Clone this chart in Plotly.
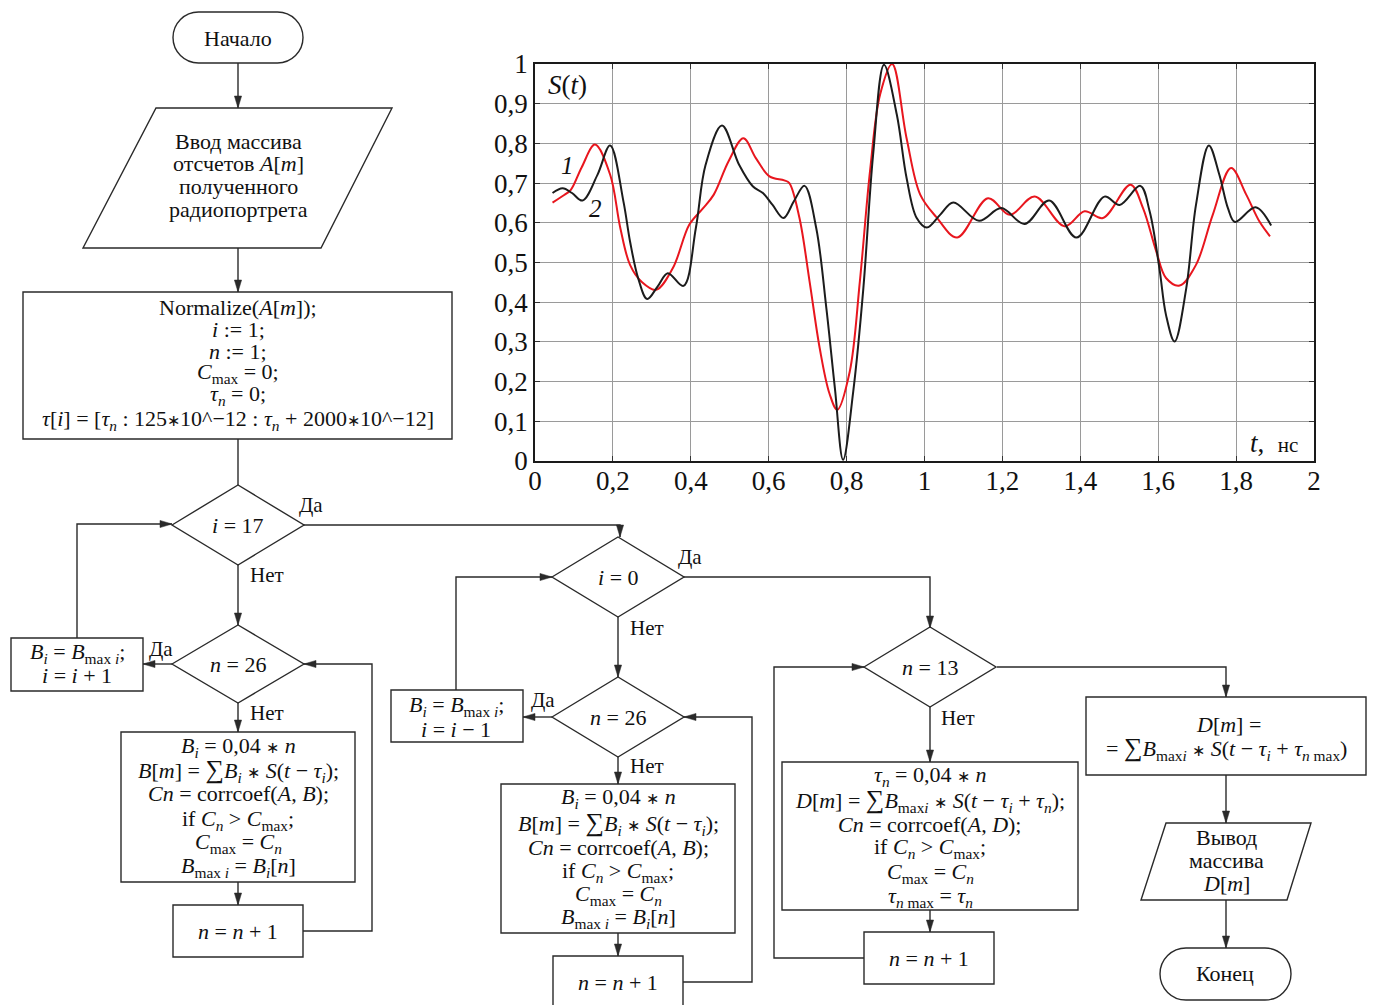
import plotly.graph_objects as go

W_PX, H_PX = 1375, 1005

# ---------------- chart data ----------------
# curve 1 (black)
t1 = [0.045, 0.071, 0.095, 0.122, 0.16, 0.193, 0.227, 0.244, 0.265, 0.288, 0.315, 0.341, 0.381,
      0.413, 0.438, 0.48, 0.524, 0.559, 0.585, 0.61, 0.638, 0.665, 0.692, 0.722, 0.748, 0.77,
      0.791, 0.817, 0.843, 0.868, 0.896, 0.929, 0.954, 0.98, 1.006, 1.04, 1.074, 1.14, 1.197,
      1.257, 1.32, 1.39, 1.462, 1.501, 1.554, 1.578, 1.603, 1.62, 1.642, 1.672, 1.697, 1.73,
      1.757, 1.779, 1.797, 1.85, 1.89]
s1 = [0.675, 0.687, 0.675, 0.656, 0.72, 0.795, 0.654, 0.553, 0.46, 0.408, 0.44, 0.473, 0.441,
      0.587, 0.746, 0.845, 0.746, 0.692, 0.675, 0.645, 0.612, 0.655, 0.693, 0.587, 0.385, 0.183,
      0.003, 0.175, 0.435, 0.771, 0.998, 0.872, 0.713, 0.612, 0.588, 0.62, 0.651, 0.605, 0.637,
      0.597, 0.656, 0.563, 0.666, 0.645, 0.693, 0.629, 0.486, 0.368, 0.301, 0.435, 0.645, 0.795,
      0.721, 0.637, 0.602, 0.639, 0.593]
# curve 2 (red)
t2 = [0.045, 0.075, 0.092, 0.12, 0.154, 0.193, 0.219, 0.244, 0.275, 0.311, 0.354, 0.396, 0.43,
      0.459, 0.497, 0.535, 0.567, 0.602, 0.64, 0.653, 0.679, 0.705, 0.731, 0.756, 0.776, 0.808,
      0.834, 0.86, 0.886, 0.917, 0.954, 0.989, 1.03, 1.084, 1.163, 1.219, 1.283, 1.36, 1.411,
      1.458, 1.529, 1.561, 1.595, 1.62, 1.655, 1.697, 1.74, 1.787, 1.826, 1.86, 1.887]
s2 = [0.651, 0.67, 0.683, 0.74, 0.797, 0.721, 0.587, 0.494, 0.45, 0.431, 0.486, 0.595, 0.635,
      0.671, 0.755, 0.813, 0.763, 0.717, 0.707, 0.70, 0.612, 0.452, 0.284, 0.17, 0.129, 0.225,
      0.452, 0.729, 0.923, 1.0, 0.813, 0.671, 0.615, 0.563, 0.662, 0.620, 0.666, 0.591, 0.629,
      0.612, 0.696, 0.637, 0.528, 0.461, 0.442, 0.494, 0.62, 0.738, 0.671, 0.603, 0.566]

x_ticks = [0, 0.2, 0.4, 0.6, 0.8, 1, 1.2, 1.4, 1.6, 1.8, 2]
x_tick_labels = ["0", "0,2", "0,4", "0,6", "0,8", "1", "1,2", "1,4", "1,6", "1,8", "2"]
y_ticks = [0, 0.1, 0.2, 0.3, 0.4, 0.5, 0.6, 0.7, 0.8, 0.9, 1]
y_tick_labels = ["0", "0,1", "0,2", "0,3", "0,4", "0,5", "0,6", "0,7", "0,8", "0,9", "1"]

SERIF = "Liberation Serif"
LC = "#2a2a2a"
FS = 22
AST = "<span style='font-size:16px'>∗</span>"
AST_S = " " + AST + " "
SUM = "<span style='font-size:26px'>∑</span>"

fig = go.Figure()
fig.add_trace(go.Scatter(x=t2, y=s2, mode="lines", hoverinfo="skip", showlegend=False,
                         line=dict(color="#e8161e", width=2, shape="spline", smoothing=1)))
fig.add_trace(go.Scatter(x=t1, y=s1, mode="lines", hoverinfo="skip", showlegend=False,
                         line=dict(color="#1c1c1c", width=2, shape="spline", smoothing=1)))
fig.add_trace(go.Scatter(x=[None], y=[None], xaxis="x2", yaxis="y2", showlegend=False,
                         hoverinfo="skip"))

shapes = []
annos = []


def path_shape(d, fill=None, width=1.4):
    s = dict(type="path", path=d, xref="x2", yref="y2", layer="above",
             line=dict(color=LC, width=width))
    if fill:
        s["fillcolor"] = fill
    shapes.append(s)


def poly(pts, closed=False):
    d = "M %g,%g " % pts[0] + " ".join("L %g,%g" % p for p in pts[1:])
    if closed:
        d += " Z"
    path_shape(d)


def arrowhead(x, y, direc, L=12, W=3.6):
    if direc == "d":
        pts = [(x, y), (x - W, y - L), (x + W, y - L)]
    elif direc == "u":
        pts = [(x, y), (x - W, y + L), (x + W, y + L)]
    elif direc == "l":
        pts = [(x, y), (x + L, y - W), (x + L, y + W)]
    else:
        pts = [(x, y), (x - L, y - W), (x - L, y + W)]
    d = "M %g,%g " % pts[0] + " ".join("L %g,%g" % p for p in pts[1:]) + " Z"
    path_shape(d, fill=LC, width=0.5)


def conn(pts, arrow=True):
    poly(pts)
    if arrow:
        (x0, y0), (x1, y1) = pts[-2], pts[-1]
        if x0 == x1:
            direc = "d" if y1 > y0 else "u"
        else:
            direc = "r" if x1 > x0 else "l"
        arrowhead(x1, y1, direc)


def rect(x0, y0, x1, y1):
    poly([(x0, y0), (x1, y0), (x1, y1), (x0, y1)], closed=True)


def diamond(cx, cy, hw, hh):
    poly([(cx - hw, cy), (cx, cy - hh), (cx + hw, cy), (cx, cy + hh)], closed=True)


def terminator(x0, y0, x1, y1):
    r = (y1 - y0) / 2.0
    k = 0.5523 * r
    cy = (y0 + y1) / 2.0
    a, b = x0 + r, x1 - r
    d = ("M %g,%g L %g,%g " % (a, y0, b, y0) +
         "C %g,%g %g,%g %g,%g " % (b + k, y0, x1, cy - k, x1, cy) +
         "C %g,%g %g,%g %g,%g " % (x1, cy + k, b + k, y1, b, y1) +
         "L %g,%g " % (a, y1) +
         "C %g,%g %g,%g %g,%g " % (a - k, y1, x0, cy + k, x0, cy) +
         "C %g,%g %g,%g %g,%g Z" % (x0, cy - k, a - k, y0, a, y0))
    path_shape(d)


def text(x, y, s, size=FS):
    annos.append(dict(x=x, y=y, xref="x2", yref="y2", text=s, showarrow=False,
                      xanchor="center", yanchor="middle",
                      font=dict(family=SERIF, size=size, color="#111")))


# ---------------- flowchart: left column ----------------
terminator(173, 12, 303, 63)
text(238, 38, "Начало")
conn([(238, 63), (238, 108)])
poly([(156, 108), (392, 108), (321, 248), (83, 248)], closed=True)
for y, s in zip([141, 163, 186, 209],
                ["Ввод массива", "отсчетов <i>A</i>[<i>m</i>]", "полученного", "радиопортрета"]):
    text(238, y, s)
conn([(238, 248), (238, 292)])
rect(23, 292, 452, 439)
init_lines = [
    "Normalize(<i>A</i>[<i>m</i>]);",
    "<i>i</i> := 1;",
    "<i>n</i> := 1;",
    "<i>C</i><sub>max</sub> = 0;",
    "<i>τ<sub>n</sub></i> = 0;",
    "<i>τ</i>[<i>i</i>] = [<i>τ<sub>n</sub></i> : 125" + AST + "10^−12 : <i>τ<sub>n</sub></i> + 2000" + AST + "10^−12]",
]
for y, s in zip([307, 329, 351, 373, 395, 420], init_lines):
    text(238, y, s)
conn([(238, 439), (238, 485)], arrow=False)

diamond(238, 525, 66, 40)
text(238, 525, "<i>i</i> = 17")
text(311, 505, "Да", 21)
conn([(304, 525), (620, 525), (620, 537)])
conn([(238, 565), (238, 625)])
text(267, 575, "Нет", 21)

diamond(238, 664, 66, 39)
text(238, 664, "<i>n</i> = 26")
text(161, 649, "Да", 21)
conn([(172, 664), (143, 664)])
rect(11, 638, 143, 691)
text(77, 653, "<i>B<sub>i</sub></i> = <i>B</i><sub>max <i>i</i></sub>;")
text(77, 675, "<i>i</i> = <i>i</i> + 1")
conn([(77, 638), (77, 524), (172, 524)])
text(267, 713, "Нет", 21)
conn([(238, 703), (238, 732)])

bbox_lines = [
    "<i>B<sub>i</sub></i> = 0,04" + AST_S + "<i>n</i>",
    "<i>B</i>[<i>m</i>] = " + SUM + "<i>B<sub>i</sub></i>" + AST_S + "<i>S</i>(<i>t</i> − <i>τ<sub>i</sub></i>);",
    "<i>Cn</i> = corrcoef(<i>A</i>, <i>B</i>);",
    "if <i>C<sub>n</sub></i> &gt; <i>C</i><sub>max</sub>;",
    "<i>C</i><sub>max</sub> = <i>C<sub>n</sub></i>",
    "<i>B</i><sub>max <i>i</i></sub> = <i>B<sub>i</sub></i>[<i>n</i>]",
]
rect(121, 732, 355, 882)
for y, s in zip([747, 770, 793, 820, 843, 867], bbox_lines):
    text(238, y, s)
conn([(238, 882), (238, 905)])
rect(173, 905, 303, 957)
text(238, 931, "<i>n</i> = <i>n</i> + 1")
conn([(303, 931), (372, 931), (372, 664), (304, 664)])

# ---------------- flowchart: middle column ----------------
diamond(618, 577, 66, 40)
text(618, 577, "<i>i</i> = 0")
text(690, 557, "Да", 21)
text(647, 628, "Нет", 21)
conn([(618, 617), (618, 677)])
diamond(618, 717, 66, 40)
text(618, 717, "<i>n</i> = 26")
text(543, 700, "Да", 21)
conn([(552, 717), (523, 717)])
rect(391, 690, 523, 742)
text(456, 706, "<i>B<sub>i</sub></i> = <i>B</i><sub>max <i>i</i></sub>;")
text(456, 729, "<i>i</i> = <i>i</i> − 1")
conn([(456, 690), (456, 577), (552, 577)])
text(647, 766, "Нет", 21)
conn([(618, 757), (618, 784)])
rect(501, 784, 735, 933)
for y, s in zip([798, 823, 847, 872, 895, 918], bbox_lines):
    text(618, y, s)
conn([(618, 933), (618, 956)])
rect(553, 956, 683, 1012)
text(618, 982, "<i>n</i> = <i>n</i> + 1")
conn([(683, 982), (752, 982), (752, 717), (684, 717)])

# ---------------- flowchart: right part ----------------
conn([(684, 577), (930, 577), (930, 628)])
diamond(930, 667, 66, 40)
text(930, 667, "<i>n</i> = 13")
text(958, 718, "Нет", 21)
conn([(930, 707), (930, 762)])
rect(782, 762, 1078, 910)
rbox_lines = [
    "<i>τ<sub>n</sub></i> = 0,04" + AST_S + "<i>n</i>",
    "<i>D</i>[<i>m</i>] = " + SUM + "<i>B</i><sub>max<i>i</i></sub>" + AST_S + "<i>S</i>(<i>t</i> − <i>τ<sub>i</sub></i> + <i>τ<sub>n</sub></i>);",
    "<i>Cn</i> = corrcoef(<i>A</i>, <i>D</i>);",
    "if <i>C<sub>n</sub></i> &gt; <i>C</i><sub>max</sub>;",
    "<i>C</i><sub>max</sub> = <i>C<sub>n</sub></i>",
    "<i>τ</i><sub><i>n</i> max</sub> = <i>τ<sub>n</sub></i>",
]
for y, s in zip([776, 800, 824, 848, 873, 897], rbox_lines):
    text(930, y, s)
conn([(930, 910), (930, 932)])
rect(864, 932, 994, 984)
text(929, 958, "<i>n</i> = <i>n</i> + 1")
conn([(864, 958), (774, 958), (774, 667), (864, 667)])

conn([(997, 667), (1226, 667), (1226, 697)])
rect(1086, 697, 1366, 775)
text(1228, 724, "<i>D</i>[<i>m</i>] =")
text(1226, 748, "= " + SUM + "<i>B</i><sub>max<i>i</i></sub>" + AST_S + "<i>S</i>(<i>t</i> − <i>τ<sub>i</sub></i> + <i>τ</i><sub><i>n</i> max</sub>)")
conn([(1226, 775), (1226, 823)])
poly([(1166, 823), (1311, 823), (1287, 900), (1141, 900)], closed=True)
text(1226, 837, "Вывод")
text(1226, 860, "массива")
text(1226, 883, "<i>D</i>[<i>m</i>]")
conn([(1226, 900), (1226, 948)])
terminator(1160, 948, 1291, 1000)
text(1225, 973, "Конец")

# ---------------- chart labels ----------------
text(567, 85, "<i>S</i>(<i>t</i>)", size=27)
text(567, 165, "<i>1</i>", size=25)
text(595, 208, "<i>2</i>", size=25)
text(1274, 443, "<i>t</i>,  <span style='font-size:21px'>нс</span>", size=27)

axis_common = dict(showgrid=True, gridcolor="#9a9a9a", gridwidth=1, zeroline=False,
                   showline=True, linecolor="#1a1a1a", linewidth=1.6, mirror="ticks",
                   ticks="inside", ticklen=5, tickcolor="#333", tickwidth=1.4,
                   tickfont=dict(family=SERIF, size=27, color="#111"))

fig.update_layout(
    width=W_PX, height=H_PX, autosize=False,
    margin=dict(l=0, r=0, t=0, b=0, pad=0, autoexpand=False),
    paper_bgcolor="white", plot_bgcolor="rgba(0,0,0,0)",
    showlegend=False,
    xaxis=dict(domain=[535 / W_PX, 1314 / W_PX], range=[0, 2], tickvals=x_ticks,
               ticktext=x_tick_labels, anchor="y", ticklabelstandoff=-5, automargin=False,
               **axis_common),
    yaxis=dict(domain=[1 - 461 / H_PX, 1 - 64 / H_PX], range=[0, 1], tickvals=y_ticks,
               ticktext=y_tick_labels, anchor="x", ticklabelstandoff=0, automargin=False,
               **axis_common),
    xaxis2=dict(domain=[0, 1], range=[0, W_PX], visible=False, anchor="y2", fixedrange=True,
                automargin=False),
    yaxis2=dict(domain=[0, 1], range=[H_PX, 0], visible=False, anchor="x2", fixedrange=True,
                automargin=False),
    shapes=shapes,
    annotations=annos,
)

fig.write_html("out.html", config={"displayModeBar": False},
               post_script="document.body.style.margin='0px';document.body.style.overflow='hidden';")
